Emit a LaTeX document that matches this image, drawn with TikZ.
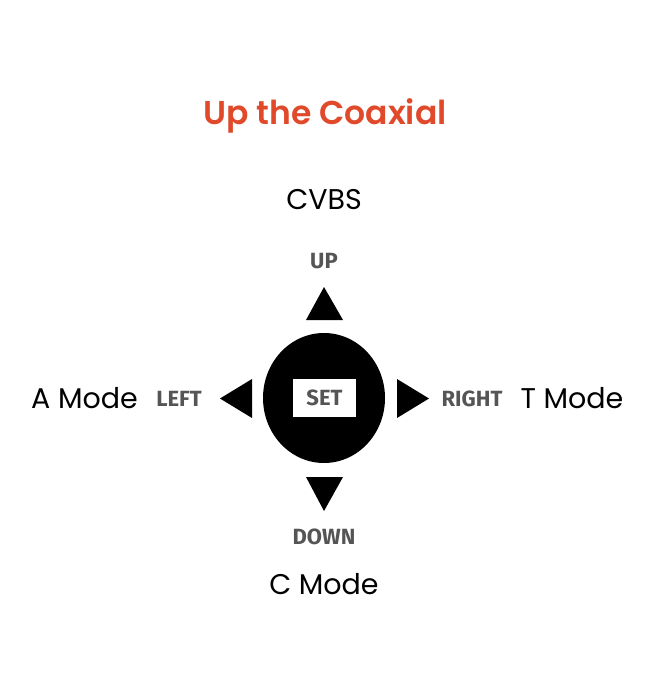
\documentclass[tikz,border=0pt]{standalone}
\usepackage{fontspec}
\setmainfont{Poppins}
\IfFontExistsTF{Poppins SemiBold}{\newfontfamily\titlefont{Poppins SemiBold}}{\newfontfamily\titlefont{Poppins}[UprightFont=*-Bold]}
\newfontfamily\btnfont{Fira Sans}
\usetikzlibrary{shapes.geometric}
\definecolor{titlered}{HTML}{E04A2A}
\definecolor{btngray}{HTML}{555555}
\begin{document}
\begin{tikzpicture}[x=1pt,y=-1pt,
  modelabel/.style={font=\fontsize{28.5}{28.5}\selectfont, text=black, inner sep=0pt},
  btnlabel/.style={font=\btnfont\bfseries\fontsize{22}{22}\selectfont, text=btngray, inner sep=0pt},
  arrowtri/.style={fill=black, draw=none}]
\useasboundingbox (0,0) rectangle (650,700);
\fill[white] (0,0) rectangle (650,700);
\node[font=\titlefont\fontsize{33}{33}\selectfont, text=titlered, inner sep=0pt] (title) at (325,116) {Up the Coaxial};
\node[modelabel] (cvbs) at (324,200) {CVBS};
\node[btnlabel] (up) at (324,261) {UP};
\node[btnlabel] (left) at (179,399) {LEFT};
\node[btnlabel] (right) at (472,399) {RIGHT};
\node[btnlabel] (down) at (324,537) {DOWN};
\node[modelabel] (amode) at (84.5,398) {A Mode};
\node[modelabel] (tmode) at (572,398) {T Mode};
\node[modelabel] (cmode) at (324,584) {C Mode};
% central button
\node[ellipse, fill=black, minimum width=122, minimum height=130, inner sep=0pt] (pad) at (324,398) {};
\node[fill=white, minimum width=63, minimum height=38, inner sep=0pt, btnlabel] (set) at (324.5,398) {SET};
% direction triangles
\fill[arrowtri] (324,287) -- (343,320) -- (306,320) -- cycle;
\fill[arrowtri] (324,511) -- (343,477) -- (306,477) -- cycle;
\fill[arrowtri] (220,398.5) -- (252,379) -- (252,418) -- cycle;
\fill[arrowtri] (429,398.5) -- (397,379) -- (397,418) -- cycle;
\end{tikzpicture}
\end{document}
